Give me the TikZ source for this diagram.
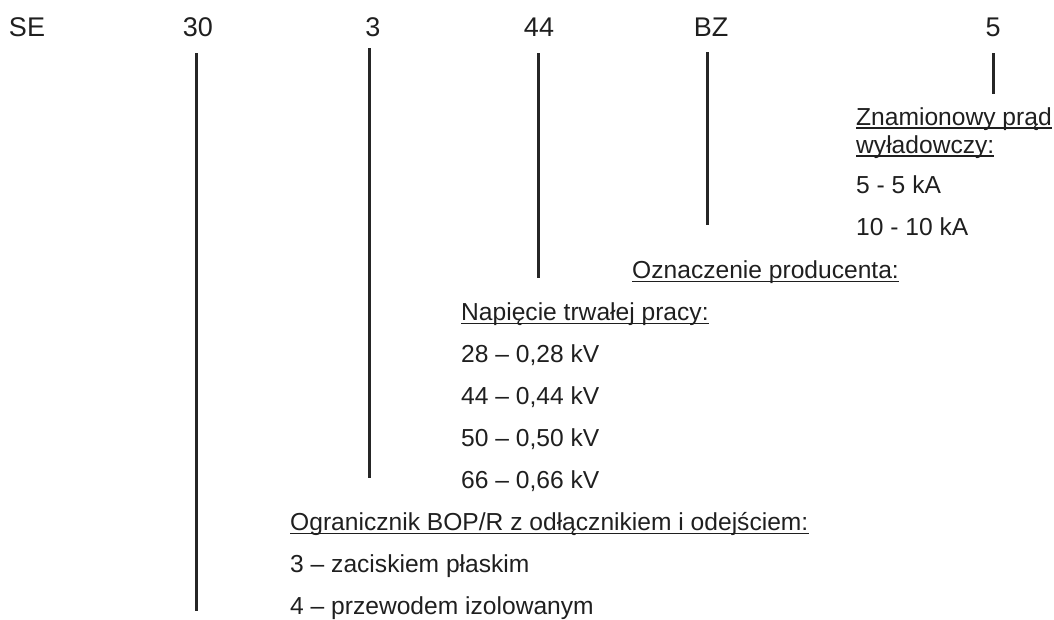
\documentclass[tikz,border=0pt]{standalone}
\usepackage{fontspec}
\setmainfont{Liberation Sans}
\begin{document}
\begin{tikzpicture}[x=1pt,y=-1pt,
  code/.style={font=\fontsize{27}{30}\selectfont, anchor=base, inner sep=0pt, text=black!88},
  lbl/.style={font=\fontsize{24.6}{28}\selectfont, anchor=base west, inner sep=0pt, text=black!88},
  bar/.style={line width=3pt, black!85},
  ul/.style={line width=1.7pt, black!88}]
\useasboundingbox (0,0) rectangle (1054,619);
% code row
\node[code] (se)  at (27,36)  {SE};
\node[code] (c30) at (198,36) {30};
\node[code] (c3)  at (373,36) {3};
\node[code] (c44) at (539,36) {44};
\node[code] (cbz) at (711,36) {BZ};
\node[code] (c5)  at (993,36) {5};
% bars
\coordinate (t30) at (196,53);  \coordinate (b30) at (196,611);
\coordinate (t3)  at (369,48);  \coordinate (b3)  at (369,478);
\coordinate (t44) at (538,53);  \coordinate (b44) at (538,278);
\coordinate (tbz) at (707,52);  \coordinate (bbz) at (707,225);
\coordinate (t5)  at (993,53);  \coordinate (b5)  at (993,94);
\draw[bar] (t30) -- (b30);
\draw[bar] (t3) -- (b3);
\draw[bar] (t44) -- (b44);
\draw[bar] (tbz) -- (bbz);
\draw[bar] (t5) -- (b5);
% current
\node[lbl] (zn1) at (856,125) {Znamionowy prąd};
\node[lbl] (zn2) at (856,153) {wyładowczy:};
\node[lbl] (zn3) at (856,193) {5 - 5 kA};
\node[lbl] (zn4) at (856,235) {10 - 10 kA};
\draw[ul] ([yshift=-3.2pt]zn1.base west) -- ([yshift=-3.2pt]zn1.base east);
\draw[ul] ([yshift=-3.2pt]zn2.base west) -- ([yshift=-3.2pt]zn2.base east);
% producer
\node[lbl] (oz) at (632,278) {Oznaczenie producenta:};
\draw[ul] ([yshift=-3.5pt]oz.base west) -- ([yshift=-3.5pt]oz.base east);
% voltage
\node[lbl] (np) at (461,320) {Napięcie trwałej pracy:};
\draw[ul] ([yshift=-3.5pt]np.base west) -- ([yshift=-3.5pt]np.base east);
\node[lbl] (v28) at (461,362) {28 – 0,28 kV};
\node[lbl] (v44) at (461,404) {44 – 0,44 kV};
\node[lbl] (v50) at (461,446) {50 – 0,50 kV};
\node[lbl] (v66) at (461,488) {66 – 0,66 kV};
% type
\node[lbl] (og) at (290,530) {Ogranicznik BOP/R z odłącznikiem i odejściem:};
\draw[ul] ([yshift=-3.5pt]og.base west) -- ([yshift=-3.5pt]og.base east);
\node[lbl] (o3) at (290,572) {3 – zaciskiem płaskim};
\node[lbl] (o4) at (290,614) {4 – przewodem izolowanym};
\end{tikzpicture}
\end{document}
